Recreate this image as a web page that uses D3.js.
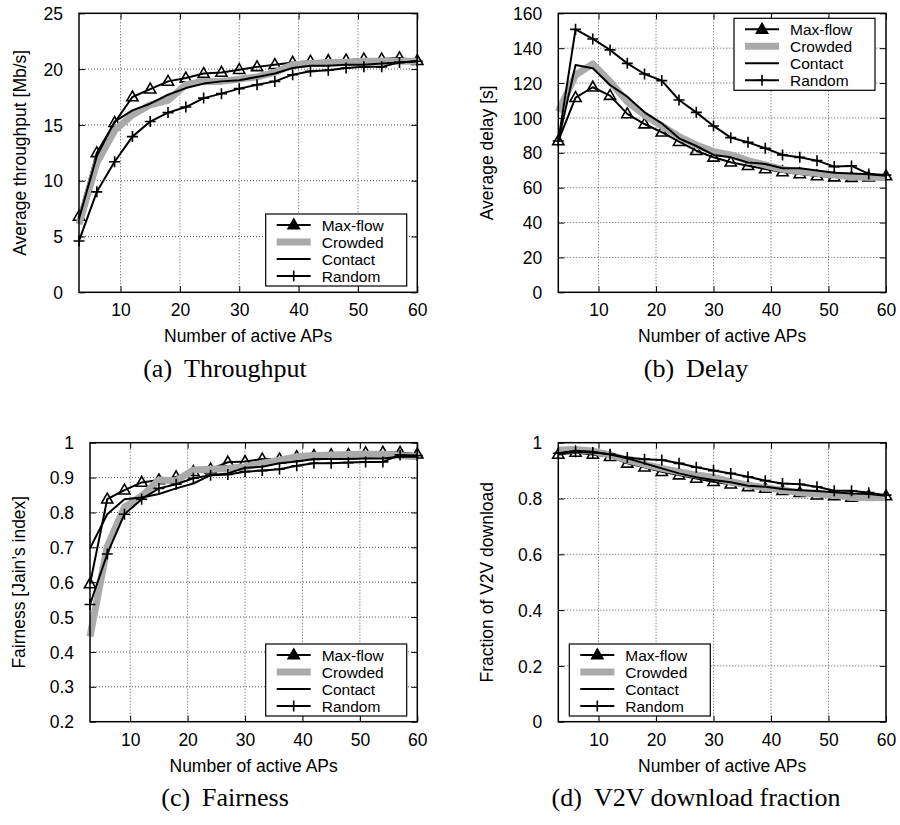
<!DOCTYPE html>
<html>
<head>
<meta charset="utf-8">
<script src="https://cdn.jsdelivr.net/npm/d3@7"></script>
<style>
  html, body { margin: 0; padding: 0; background: #fff; }
  svg { display: block; }
  .tick-label, .axis-title { font-family: "Liberation Sans", Arial, Helvetica, sans-serif; font-size: 17.5px; fill: #000; }
  .legend-text { font-family: "Liberation Sans", Arial, Helvetica, sans-serif; font-size: 15.5px; fill: #000; }
  .caption { font-family: "Liberation Serif", "Times New Roman", serif; font-size: 26px; fill: #000; }
</style>
</head>
<body>
<svg id="fig" width="900" height="825"></svg>
<script>
// Number of active APs (x positions of every sample)
const apCounts = [3, 6, 9, 12, 15, 18, 21, 24, 27, 30, 33, 36, 39, 42, 45, 48, 51, 54, 57, 60];
const xTickValues = [10, 20, 30, 40, 50, 60];

// Series names, in drawing order
const seriesNames = ["Max-flow", "Crowded", "Contact", "Random"];

// (a) Average throughput [Mb/s]
const throughputMaxflow = [6.8, 12.5, 15.2, 17.5, 18.2, 18.9, 19.2, 19.6, 19.7, 19.95, 20.2, 20.4, 20.6, 20.7, 20.75, 20.8, 20.9, 20.9, 21.0, 20.75];
const throughputCrowded = [6.1, 11.6, 14.5, 15.9, 16.8, 17.2, 18.6, 18.9, 18.9, 19.1, 19.3, 19.7, 20.4, 20.5, 20.6, 20.6, 20.7, 20.7, 20.7, 20.7];
const throughputContact = [6.6, 12.2, 15.3, 16.3, 16.9, 17.7, 18.3, 18.7, 18.9, 19.0, 19.3, 19.6, 20.1, 20.3, 20.3, 20.4, 20.4, 20.5, 20.6, 20.7];
const throughputRandom  = [4.6, 9.0, 11.7, 13.95, 15.3, 16.1, 16.6, 17.4, 17.8, 18.25, 18.6, 18.9, 19.5, 19.8, 19.9, 20.1, 20.2, 20.2, 20.6, 20.7];
const throughputTicks = [0, 5, 10, 15, 20, 25];

// (b) Average delay [s]
const delayMaxflow = [86.8, 111.6, 117.6, 112.8, 102.3, 96.5, 91.8, 86.4, 81.2, 77.4, 74.6, 72.6, 70.7, 69.0, 67.9, 66.7, 66.1, 65.8, 66.0, 66.7];
const delayCrowded = [103.6, 124.6, 131.0, 120.8, 109.3, 101.7, 95.4, 89.3, 84.5, 80.7, 78.8, 75.5, 73.0, 70.5, 69.2, 68.2, 67.3, 66.3, 66.0, 65.8];
const delayContact = [86.8, 130.4, 128.5, 118.9, 112.2, 103.2, 96.9, 88.3, 83.9, 78.8, 77.4, 74.4, 73.6, 71.1, 71.1, 69.8, 68.6, 68.2, 67.7, 66.9];
const delayRandom  = [86.8, 150.8, 145.3, 139.0, 131.3, 125.2, 121.4, 110.3, 103.2, 95.4, 88.7, 86.0, 82.6, 78.8, 77.4, 75.5, 72.1, 72.5, 67.9, 67.3];
const delayTicks = [0, 20, 40, 60, 80, 100, 120, 140, 160];

// (c) Fairness [Jain's index]
const fairnessMaxflow = [0.595, 0.838, 0.864, 0.886, 0.893, 0.902, 0.917, 0.924, 0.944, 0.946, 0.953, 0.953, 0.960, 0.963, 0.965, 0.966, 0.971, 0.972, 0.972, 0.967];
const fairnessCrowded = [0.444, 0.702, 0.815, 0.847, 0.893, 0.891, 0.922, 0.924, 0.926, 0.931, 0.941, 0.950, 0.960, 0.963, 0.965, 0.966, 0.967, 0.967, 0.963, 0.960];
const fairnessContact = [0.697, 0.795, 0.838, 0.843, 0.853, 0.869, 0.883, 0.907, 0.912, 0.928, 0.931, 0.941, 0.946, 0.953, 0.953, 0.953, 0.955, 0.955, 0.960, 0.960];
const fairnessRandom  = [0.536, 0.681, 0.795, 0.838, 0.869, 0.881, 0.898, 0.907, 0.909, 0.917, 0.920, 0.924, 0.934, 0.941, 0.941, 0.943, 0.945, 0.945, 0.965, 0.963];
const fairnessTicks = [0.2, 0.3, 0.4, 0.5, 0.6, 0.7, 0.8, 0.9, 1];

// (d) Fraction of V2V download
const v2vMaxflow = [0.958, 0.965, 0.958, 0.950, 0.926, 0.912, 0.896, 0.884, 0.872, 0.860, 0.851, 0.842, 0.836, 0.828, 0.821, 0.812, 0.809, 0.804, 0.809, 0.809];
const v2vCrowded = [0.974, 0.976, 0.970, 0.956, 0.938, 0.922, 0.908, 0.896, 0.884, 0.876, 0.860, 0.848, 0.839, 0.830, 0.821, 0.816, 0.812, 0.804, 0.803, 0.804];
const v2vContact = [0.962, 0.971, 0.968, 0.958, 0.944, 0.926, 0.908, 0.890, 0.876, 0.866, 0.858, 0.846, 0.842, 0.834, 0.830, 0.827, 0.822, 0.818, 0.816, 0.810];
const v2vRandom  = [0.962, 0.968, 0.965, 0.959, 0.947, 0.941, 0.938, 0.926, 0.912, 0.900, 0.890, 0.878, 0.864, 0.854, 0.851, 0.842, 0.828, 0.828, 0.821, 0.812];
const v2vTicks = [0, 0.2, 0.4, 0.6, 0.8, 1];

// ---- styling of each series ----
const seriesStyle = {
  "Max-flow": { color: "#000", width: 2, marker: "triangle" },
  "Crowded":  { color: "#aaaaaa", width: 7, marker: null },
  "Contact":  { color: "#000", width: 2, marker: null },
  "Random":   { color: "#000", width: 2, marker: "plus" }
};

const markerPath = {
  triangle: "M0,-6L5.6,3.8L-5.6,3.8Z",
  plus: "M-5.5,0H5.5M0,-5.5V5.5"
};

// ---- panel layout ----
const panels = [
  { series: [throughputMaxflow, throughputCrowded, throughputContact, throughputRandom],
    yDomain: [0, 25], yTicks: throughputTicks, yTitle: "Average throughput [Mb/s]",
    left: 79, right: 417.3, top: 13.3, bottom: 292.3, yTitleX: 25.5,
    legend: { x: 265.7, y: 214 }, caption: ["(a)", "Throughput"], captionX: 225, captionY: 376.5 },
  { series: [delayMaxflow, delayCrowded, delayContact, delayRandom],
    yDomain: [0, 160], yTicks: delayTicks, yTitle: "Average delay [s]",
    left: 558.3, right: 886, top: 13.3, bottom: 292.3, yTitleX: 493,
    legend: { x: 734, y: 18.3 }, caption: ["(b)", "Delay"], captionX: 696, captionY: 376.5 },
  { series: [fairnessMaxflow, fairnessCrowded, fairnessContact, fairnessRandom],
    yDomain: [0.2, 1], yTicks: fairnessTicks, yTitle: "Fairness [Jain\u2019s index]",
    left: 90, right: 417.3, top: 442.7, bottom: 721.7, yTitleX: 25,
    legend: { x: 265.7, y: 644 }, caption: ["(c)", "Fairness"], captionX: 225, captionY: 806 },
  { series: [v2vMaxflow, v2vCrowded, v2vContact, v2vRandom],
    yDomain: [0, 1], yTicks: v2vTicks, yTitle: "Fraction of V2V download",
    left: 558.3, right: 886, top: 442.7, bottom: 721.7, yTitleX: 493,
    legend: { x: 569.3, y: 644 }, caption: ["(d)", "V2V download fraction"], captionX: 696, captionY: 806 }
];

const legendW = 141, legendH = 72, legendRow = 17;

const svg = d3.select("#fig");

panels.forEach((p, pi) => {
  const x = d3.scaleLinear().domain([d3.min(apCounts), d3.max(apCounts)]).range([p.left, p.right]);
  const y = d3.scaleLinear().domain(p.yDomain).range([p.bottom, p.top]);
  const g = svg.append("g");

  // grid
  const grid = g.append("g").attr("stroke", "#555").attr("stroke-width", 1).attr("stroke-dasharray", "1,2");
  grid.selectAll(".gx").data(xTickValues.filter(v => x(v) < p.right - 1)).enter().append("line")
    .attr("x1", d => x(d)).attr("x2", d => x(d)).attr("y1", p.top).attr("y2", p.bottom);
  grid.selectAll(".gy").data(p.yTicks.filter(v => y(v) > p.top + 1 && y(v) < p.bottom - 1)).enter().append("line")
    .attr("x1", p.left).attr("x2", p.right).attr("y1", d => y(d)).attr("y2", d => y(d));

  // x axis (bottom) with inward ticks, and mirrored ticks on top
  const xAxis = d3.axisBottom(x).tickValues(xTickValues).tickSize(-6).tickPadding(12).tickFormat(d3.format("d"));
  const xg = g.append("g").attr("transform", `translate(0,${p.bottom})`).call(xAxis);
  const xTop = g.append("g").attr("transform", `translate(0,${p.top})`).call(d3.axisTop(x).tickValues(xTickValues).tickSize(-6).tickFormat(""));
  // y axis (left) with inward ticks, and mirrored ticks on right
  const yAxis = d3.axisLeft(y).tickValues(p.yTicks).tickSize(-6).tickPadding(16).tickFormat(v => String(v));
  const yg = g.append("g").attr("transform", `translate(${p.left},0)`).call(yAxis);
  const yRight = g.append("g").attr("transform", `translate(${p.right},0)`).call(d3.axisRight(y).tickValues(p.yTicks).tickSize(-6).tickFormat(""));

  [xg, xTop, yg, yRight].forEach(a => {
    a.select(".domain").remove();
    a.selectAll(".tick line").attr("stroke", "#000").attr("stroke-width", 1);
    a.selectAll(".tick text").attr("class", "tick-label").attr("font-size", null).attr("font-family", null);
    a.attr("font-size", null).attr("font-family", null);
  });
  xg.selectAll(".tick text").attr("dy", null).attr("y", 24);
  yg.selectAll(".tick text").attr("dy", "0.35em");

  const line = d3.line().x((d, i) => x(apCounts[i])).y(d => y(d));

  // each series: its line, then its markers, so later series cover earlier ones
  seriesNames.forEach((name, si) => {
    const st = seriesStyle[name];
    const values = p.series[si];
    const sg = g.append("g");
    sg.append("path").datum(values)
      .attr("d", line).attr("fill", "none")
      .attr("stroke", st.color).attr("stroke-width", st.width)
      .attr("stroke-linejoin", "round");
    if (st.marker) {
      sg.selectAll(".mk").data(values).enter().append("path")
        .attr("d", markerPath[st.marker])
        .attr("transform", (d, i) => `translate(${x(apCounts[i])},${y(d)})`)
        .attr("fill", "none").attr("stroke", "#000").attr("stroke-width", 1.6);
    }
  });

  // border
  g.append("rect").attr("x", p.left).attr("y", p.top)
    .attr("width", p.right - p.left).attr("height", p.bottom - p.top)
    .attr("fill", "none").attr("stroke", "#000").attr("stroke-width", 1.5);

  // axis titles
  g.append("text").attr("class", "axis-title")
    .attr("x", (p.left + p.right) / 2).attr("y", p.bottom + 50)
    .attr("text-anchor", "middle").text("Number of active APs");
  g.append("text").attr("class", "axis-title")
    .attr("transform", `translate(${p.yTitleX},${(p.top + p.bottom) / 2}) rotate(-90)`)
    .attr("text-anchor", "middle").text(p.yTitle);

  // legend
  const lg = g.append("g").attr("transform", `translate(${p.legend.x},${p.legend.y})`);
  lg.append("rect").attr("x", 0).attr("y", 0).attr("width", legendW).attr("height", legendH)
    .attr("fill", "#fff").attr("stroke", "#000").attr("stroke-width", 1.2);
  seriesNames.forEach((name, si) => {
    const st = seriesStyle[name];
    const ry = 11 + si * legendRow;
    lg.append("line").attr("x1", 11).attr("x2", 45).attr("y1", ry).attr("y2", ry)
      .attr("stroke", st.color).attr("stroke-width", st.width);
    if (st.marker) {
      lg.append("path").attr("d", markerPath[st.marker]).attr("transform", `translate(28,${ry})`)
        .attr("fill", st.marker === "triangle" ? "#000" : "none").attr("stroke", "#000").attr("stroke-width", 1.6);
    }
    lg.append("text").attr("class", "legend-text").attr("x", 56).attr("y", ry + 5.5).text(name);
  });

  // caption
  const cap = g.append("text").attr("class", "caption")
    .attr("x", p.captionX).attr("y", p.captionY).attr("text-anchor", "middle");
  cap.append("tspan").text(p.caption[0]);
  cap.append("tspan").attr("dx", 12).text(p.caption[1]);
});
</script>
</body>
</html>
